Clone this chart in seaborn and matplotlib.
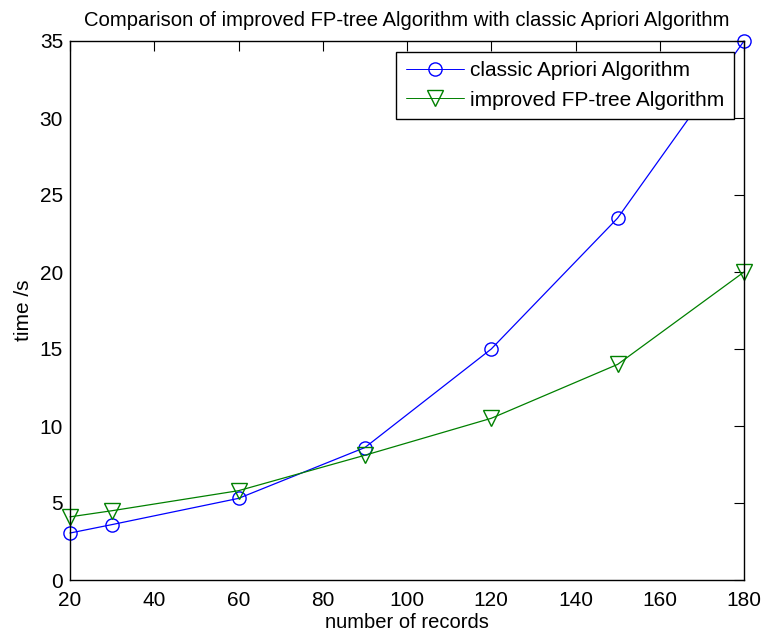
import matplotlib
matplotlib.use("Agg")
import matplotlib.pyplot as plt
import seaborn as sns
import pandas as pd

records = [20, 30, 60, 90, 120, 150, 180]
apriori = [3.05, 3.6, 5.3, 8.6, 15.0, 23.5, 35.0]
fptree = [4.1, 4.5, 5.8, 8.1, 10.5, 14.0, 20.0]
series_names = ["classic Apriori Algorithm", "improved FP-tree Algorithm"]
x_ticks = [20, 40, 60, 80, 100, 120, 140, 160, 180]
y_ticks = [0, 5, 10, 15, 20, 25, 30, 35]

sns.set_style("white")
plt.rcParams["font.family"] = ["Liberation Sans", "DejaVu Sans"]
plt.rcParams["text.color"] = "black"
plt.rcParams["axes.labelcolor"] = "black"

df = pd.DataFrame({
    "records": records * 2,
    "time": apriori + fptree,
    "series": [series_names[0]] * len(records) + [series_names[1]] * len(records),
})

fig = plt.figure(figsize=(7.64, 6.39), dpi=100)
ax = fig.add_axes([70 / 764, 59 / 639, 674 / 764, 539 / 639])

sns.lineplot(data=df, x="records", y="time", hue="series", style="series",
             markers={series_names[0]: "o", series_names[1]: "v"},
             dashes=False, palette={series_names[0]: "#0000ff", series_names[1]: "#008000"},
             ax=ax, linewidth=0.9, markersize=10, markeredgewidth=1.0)
msizes = [9.5, 11]
for line, ms in zip(ax.lines, msizes):
    line.set_markerfacecolor("none")
    line.set_markeredgecolor(line.get_color())
    line.set_markersize(ms)
    line.set_clip_on(False)

ax.set_xlim(20, 180)
ax.set_ylim(0, 35)
ax.set_xticks(x_ticks)
ax.set_yticks(y_ticks)
ax.tick_params(direction="in", top=True, right=True, length=7, width=0.8,
               labelsize=15, colors="black")
ax.tick_params(axis="x", pad=8)
ax.tick_params(axis="y", pad=5)
for s in ax.spines.values():
    s.set_visible(True)
    s.set_color("black")
    s.set_linewidth(1)
ax.set_xlabel("number of records", fontsize=14.5, labelpad=2, color="black")
ax.set_ylabel("time /s", fontsize=15, labelpad=5, color="black")
ax.set_title("Comparison of improved FP-tree Algorithm with classic Apriori Algorithm",
             fontsize=14.6, pad=11, color="black")

handles, labels = ax.get_legend_handles_labels()
for h, ms in zip(handles, msizes):
    h.set_markerfacecolor("none")
    h.set_markeredgecolor(h.get_color())
    h.set_markersize(ms)
    h.set_linewidth(0.7)
leg = ax.legend(handles, labels, loc="upper right", bbox_to_anchor=(0.985, 0.98),
                borderaxespad=0, fontsize=15, frameon=True, fancybox=False,
                edgecolor="black", framealpha=1, handlelength=2.8, handletextpad=0.3,
                borderpad=0.45, labelspacing=0.5)
leg.get_frame().set_linewidth(1)
for t in leg.get_texts():
    t.set_color("black")

fig.savefig("out.png", dpi=100)
